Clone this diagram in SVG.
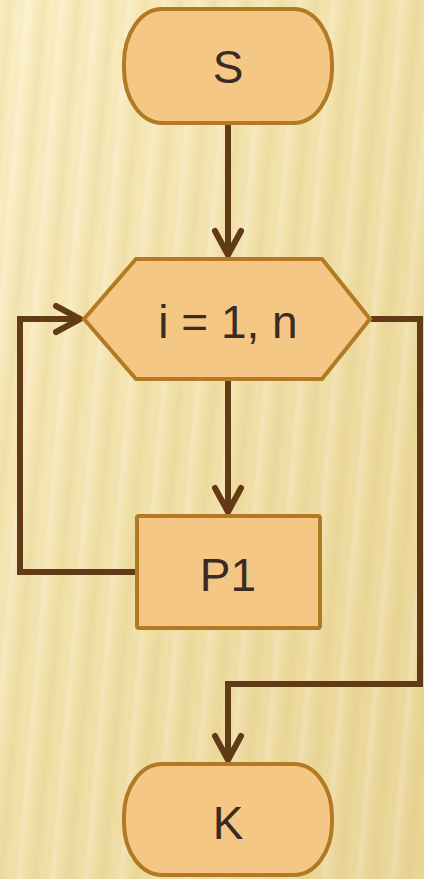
<svg xmlns="http://www.w3.org/2000/svg" width="424" height="879" viewBox="0 0 424 879">
<defs>
<linearGradient id="bg" x1="0" y1="0" x2="1" y2="1">
<stop offset="0" stop-color="#fbefc6"/>
<stop offset="0.5" stop-color="#f1e0a8"/>
<stop offset="1" stop-color="#e9d597"/>
</linearGradient>
<linearGradient id="stripe" x1="0" y1="0" x2="1" y2="0">
<stop offset="0" stop-color="#d9bd70" stop-opacity="0"/>
<stop offset="0.3" stop-color="#d9bd70" stop-opacity="0.2"/>
<stop offset="0.55" stop-color="#d9bd70" stop-opacity="0"/>
<stop offset="0.8" stop-color="#ffffff" stop-opacity="0.2"/>
<stop offset="1" stop-color="#ffffff" stop-opacity="0"/>
</linearGradient>
<pattern id="stripes" width="34" height="879" patternUnits="userSpaceOnUse" patternTransform="skewX(-5)">
<rect x="0" y="0" width="34" height="879" fill="url(#stripe)"/>
</pattern>
<marker id="arr" markerUnits="userSpaceOnUse" markerWidth="40" markerHeight="40" viewBox="-32 -20 40 40" refX="0" refY="0" orient="auto">
<path d="M -24 -13 L 0 0 L -24 13" fill="none" stroke="#613b15" stroke-width="6" stroke-linecap="round" stroke-linejoin="round"/>
</marker>
<style>
.node{fill:#f4c784;stroke:#b27a22;stroke-width:4}
.lbl{font-family:"Liberation Sans",Arial,sans-serif;font-size:46px;fill:#3b2b22;text-anchor:middle}
.conn{fill:none;stroke:#613b15;stroke-width:6;stroke-linejoin:miter}
</style>
</defs>
<rect width="424" height="879" fill="url(#bg)"/>
<rect width="424" height="879" fill="url(#stripes)"/>
<g id="connectors">
<path class="conn" d="M228 124 V255" marker-end="url(#arr)"/>
<path class="conn" d="M228 379 V512" marker-end="url(#arr)"/>
<path class="conn" d="M137 572 H20 V319 H80" marker-end="url(#arr)"/>
<path class="conn" d="M371 319 H420 V684 H228 V760" marker-end="url(#arr)"/>
</g>
<g id="S">
<rect class="node" x="124" y="9" width="208" height="114" rx="38" ry="54"/>
<text class="lbl" x="228" y="83">S</text>
</g>
<g id="loop">
<polygon class="node" points="84,319 136,259 322,259 370,319 322,379 136,379"/>
<text class="lbl" x="228" y="338">i = 1, n</text>
</g>
<g id="P1">
<rect class="node" x="137" y="516" width="183" height="112" rx="2"/>
<text class="lbl" x="228" y="591">P1</text>
</g>
<g id="K">
<rect class="node" x="124" y="764" width="208" height="111" rx="38" ry="52"/>
<text class="lbl" x="228" y="839">K</text>
</g>
</svg>
